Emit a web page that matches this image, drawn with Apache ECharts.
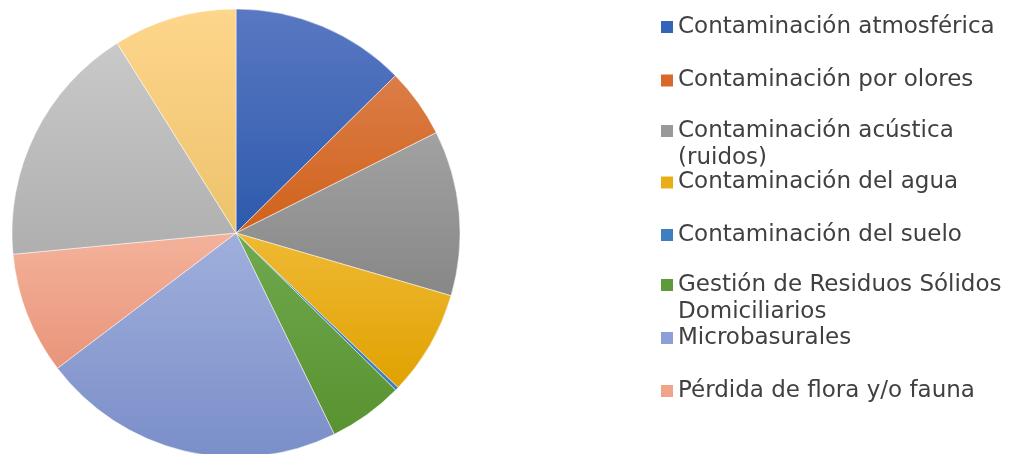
<!DOCTYPE html>
<html>
<head>
<meta charset="utf-8">
<script src="https://cdn.jsdelivr.net/npm/echarts@6/dist/echarts.min.js"></script>
<style>
html,body{margin:0;padding:0;background:#fff;}
#chart{width:1014px;height:454px;}
</style>
</head>
<body>
<div id="chart"></div>
<script>
// Data (percent share, read clockwise from 12 o'clock)
const categories = [
  'Contaminación atmosférica',
  'Contaminación por olores',
  'Contaminación acústica (ruidos)',
  'Contaminación del agua',
  'Contaminación del suelo',
  'Gestión de Residuos Sólidos Domiciliarios',
  'Microbasurales',
  'Pérdida de flora y/o fauna',
  'Otros problemas',
  'Otros'
];
const values = [12.6, 5.0, 11.9, 7.6, 0.25, 5.4, 21.9, 8.8, 17.6, 8.9];
// legend entries visible in the reference (first 8), with their wrapped text
const legendLabels = [
  'Contaminación atmosférica',
  'Contaminación por olores',
  'Contaminación acústica\n(ruidos)',
  'Contaminación del agua',
  'Contaminación del suelo',
  'Gestión de Residuos Sólidos\nDomiciliarios',
  'Microbasurales',
  'Pérdida de flora y/o fauna'
];

// Styling
const gradTop = ['#5a78c2','#dc7d48','#a2a2a2','#efb934','#4486c6','#70a94f','#a0afdc','#f4b29b','#c9c9c9','#fed68c'];
const gradBot = ['#2d5aad','#d0621a','#878787','#e0a200','#3a7bbd','#59922f','#7a8ec8','#e8957a','#afafaf','#edc26c'];
const markerColors = ['#3563b7','#d9692a','#999999','#e8ae16','#3f7fc1','#5e9a3c','#8c9fd6','#f0a48a','#bdbdbd','#fbcf7c'];
const legendCenters = [27, 80.5, 131, 182.5, 235, 285, 338, 391];

const chart = echarts.init(document.getElementById('chart'), null, {renderer: 'canvas'});

const pieData = categories.map((n, i) => ({
  name: n,
  value: values[i],
  itemStyle: {
    color: new echarts.graphic.LinearGradient(0, 0, 0, 1, [
      {offset: 0, color: gradTop[i]},
      {offset: 1, color: gradBot[i]}
    ])
  }
}));

const FS = 23, LH = 27;
const legends = legendLabels.map((lab, i) => {
  const multi = lab.indexOf('\n') >= 0;
  // for wrapped entries, add an empty leading line so the first text line sits level with the marker
  const txt = multi ? '\n' + lab : lab;
  const nLines = txt.split('\n').length;
  return {
    data: [{name: categories[i], itemStyle: {color: markerColors[i], borderWidth: 0}}],
    left: 661,
    top: legendCenters[i] - nLines * LH / 2,
    padding: 0,
    orient: 'vertical',
    icon: 'rect',
    itemWidth: 12,
    itemHeight: 12,
    itemStyle: {borderWidth: 0},
    selectedMode: false,
    formatter: () => txt,
    textStyle: {
      fontFamily: 'DejaVu Sans',
      fontSize: FS,
      lineHeight: LH,
      color: '#404040'
    }
  };
});

chart.setOption({
  animation: false,
  backgroundColor: '#ffffff',
  color: markerColors,
  legend: legends,
  series: [{
    type: 'pie',
    center: [236, 233],
    radius: 224,
    startAngle: 90,
    clockwise: true,
    label: {show: false},
    labelLine: {show: false},
    emphasis: {disabled: true},
    itemStyle: {borderColor: 'rgba(255,255,255,0.7)', borderWidth: 0.7},
    data: pieData
  }]
});
</script>
</body>
</html>
